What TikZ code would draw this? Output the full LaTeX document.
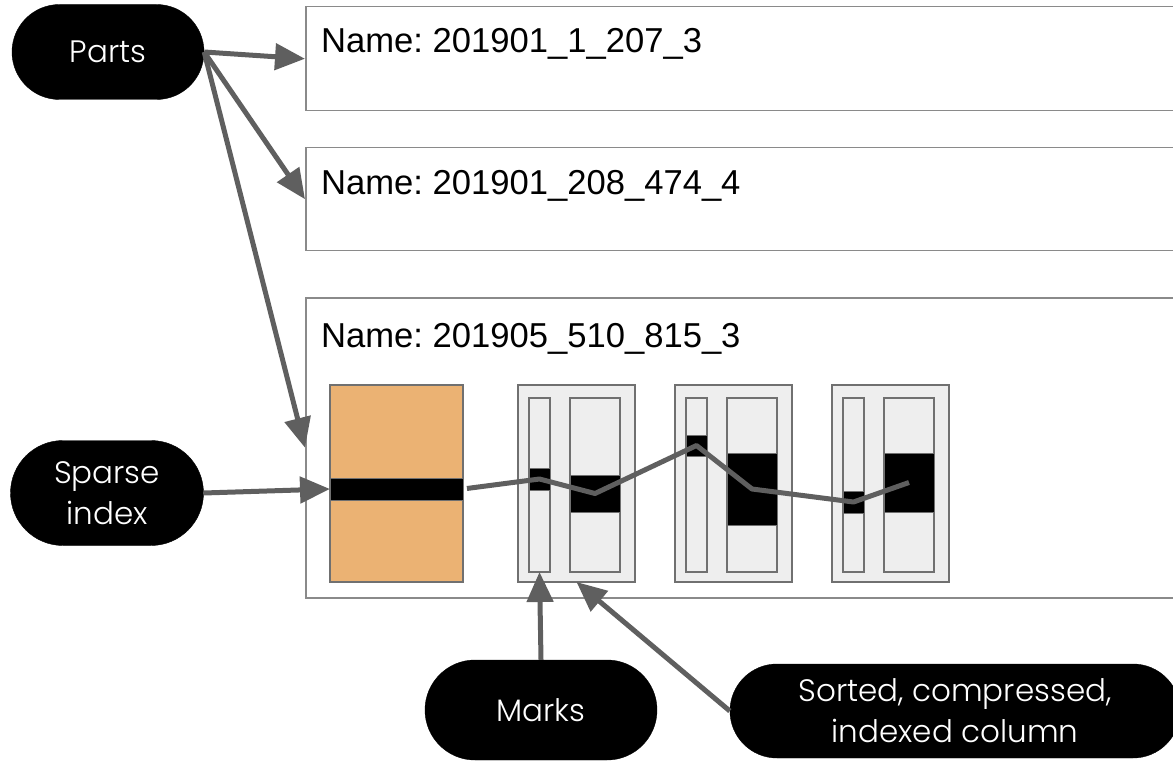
\documentclass[tikz,border=0pt]{standalone}
\usepackage{fontspec}
\setmainfont{Liberation Sans}
\newfontfamily\pillfont{Poppins}[UprightFont={* Light}]
\usetikzlibrary{arrows.meta}
\usetikzlibrary{shapes.misc}
\definecolor{arrowgray}{HTML}{5F5F5F}
\definecolor{boxgray}{HTML}{8A8A8A}
\definecolor{gridgray}{HTML}{707070}
\definecolor{lightfill}{HTML}{EEEEEE}
\definecolor{pkorange}{HTML}{EBB273}
\tikzset{
    pill/.style={
        shape=rounded rectangle,
        fill=black,
        draw=black,
        text=white,
        align=center,
        inner sep=0pt,
        font=\pillfont\fontsize{31}{41}\selectfont},
    partbox/.style={
        draw=boxgray,
        line width=1.5pt,
        anchor=north west,
        inner sep=0pt,
        minimum width=880pt},
    partname/.style={
        anchor=base west,
        inner sep=0pt,
        font=\fontsize{34.6}{40}\selectfont},
    cell/.style={
        draw=gridgray,
        line width=1.5pt,
        inner sep=0pt,
        outer sep=0pt},
    blk/.style={
        fill=black,
        draw=gridgray,
        line width=1pt,
        inner sep=0pt,
        outer sep=0pt},
    pointer/.style={
        draw=arrowgray,
        line width=5pt,
        -{Triangle[length=30pt,width=26pt]}},
    trace/.style={
        draw=arrowgray,
        line width=5pt,
        line join=round}}

\begin{document}
\frenchspacing
\begin{tikzpicture}[x=1pt,y=-1pt]
        \clip (0,0) rectangle (1173,762);

        % labels
        \node[pill,minimum width=192pt,minimum height=95pt] (parts) at (108,52) {Parts};
        \node[pill,minimum width=193pt,minimum height=105pt] (sparse) at (107,493) {Sparse\\index};
        \node[pill,minimum width=232pt,minimum height=100pt] (marks) at (541,710) {Marks};
        \node[pill,minimum width=450pt,minimum height=94pt] (sorted) at (955,711) {Sorted, compressed,\\indexed column};

        % parts
        \node[partbox,minimum height=104pt] (part1) at (305,6) {};
        \node[partbox,minimum height=103pt] (part2) at (305,147) {};
        \node[partbox,minimum height=300pt] (part3) at (305,297) {};
        \node[partname] (name1) at (321,53) {Name: 201901\_1\_207\_3};
        \node[partname] (name2) at (321,195) {Name: 201901\_208\_474\_4};
        \node[partname] (name3) at (321,347) {Name: 201905\_510\_815\_3};

        % primary key + sparse index mark
        \node[cell,fill=pkorange,anchor=north west,minimum width=133pt,minimum height=197pt] (pk) at (330,385) {};
        \node[blk,minimum width=133pt,minimum height=22pt] (band) at (396.5,489) {};

        % granules: marks file + column file
        \foreach \g/\gx/\my/\mh/\dy/\dh in {1/518/479/22/493.5/37, 2/675/445.5/21/489/72, 3/832/502/22/482.5/59} {
            \node[cell,fill=lightfill,anchor=north west,minimum width=117pt,minimum height=197pt] (gran\g) at (\gx,385) {};
            \node[cell,fill=lightfill,anchor=north west,minimum width=21pt,minimum height=174pt] (mark\g) at ({\gx+11},398) {};
            \node[cell,fill=lightfill,anchor=north west,minimum width=50pt,minimum height=174pt] (data\g) at ({\gx+52},398) {};
            \node[blk,minimum width=21pt,minimum height=\mh pt] (markblk\g) at ({\gx+21.5},\my) {};
            \node[blk,minimum width=50pt,minimum height=\dh pt] (datablk\g) at ({\gx+77},\dy) {};
        }

        \draw[trace,shorten <=4pt] (band.east) -- (markblk1.center) -- (datablk1.center)
            -- (markblk2.center) -- (datablk2.center) -- (markblk3.center) -- (datablk3.center);

        \draw[pointer] (parts.east) -- (part1.west);
        \draw[pointer] (parts.east) -- (part2.west);
        \draw[pointer] (parts.east) -- (part3.west);
        \draw[pointer] (sparse.east) -- (band.west);
        \draw[pointer] (marks.north) -- (mark1.south);
        \draw[pointer] (sorted.west) -- (gran1.south);
    \end{tikzpicture}
\end{document}
